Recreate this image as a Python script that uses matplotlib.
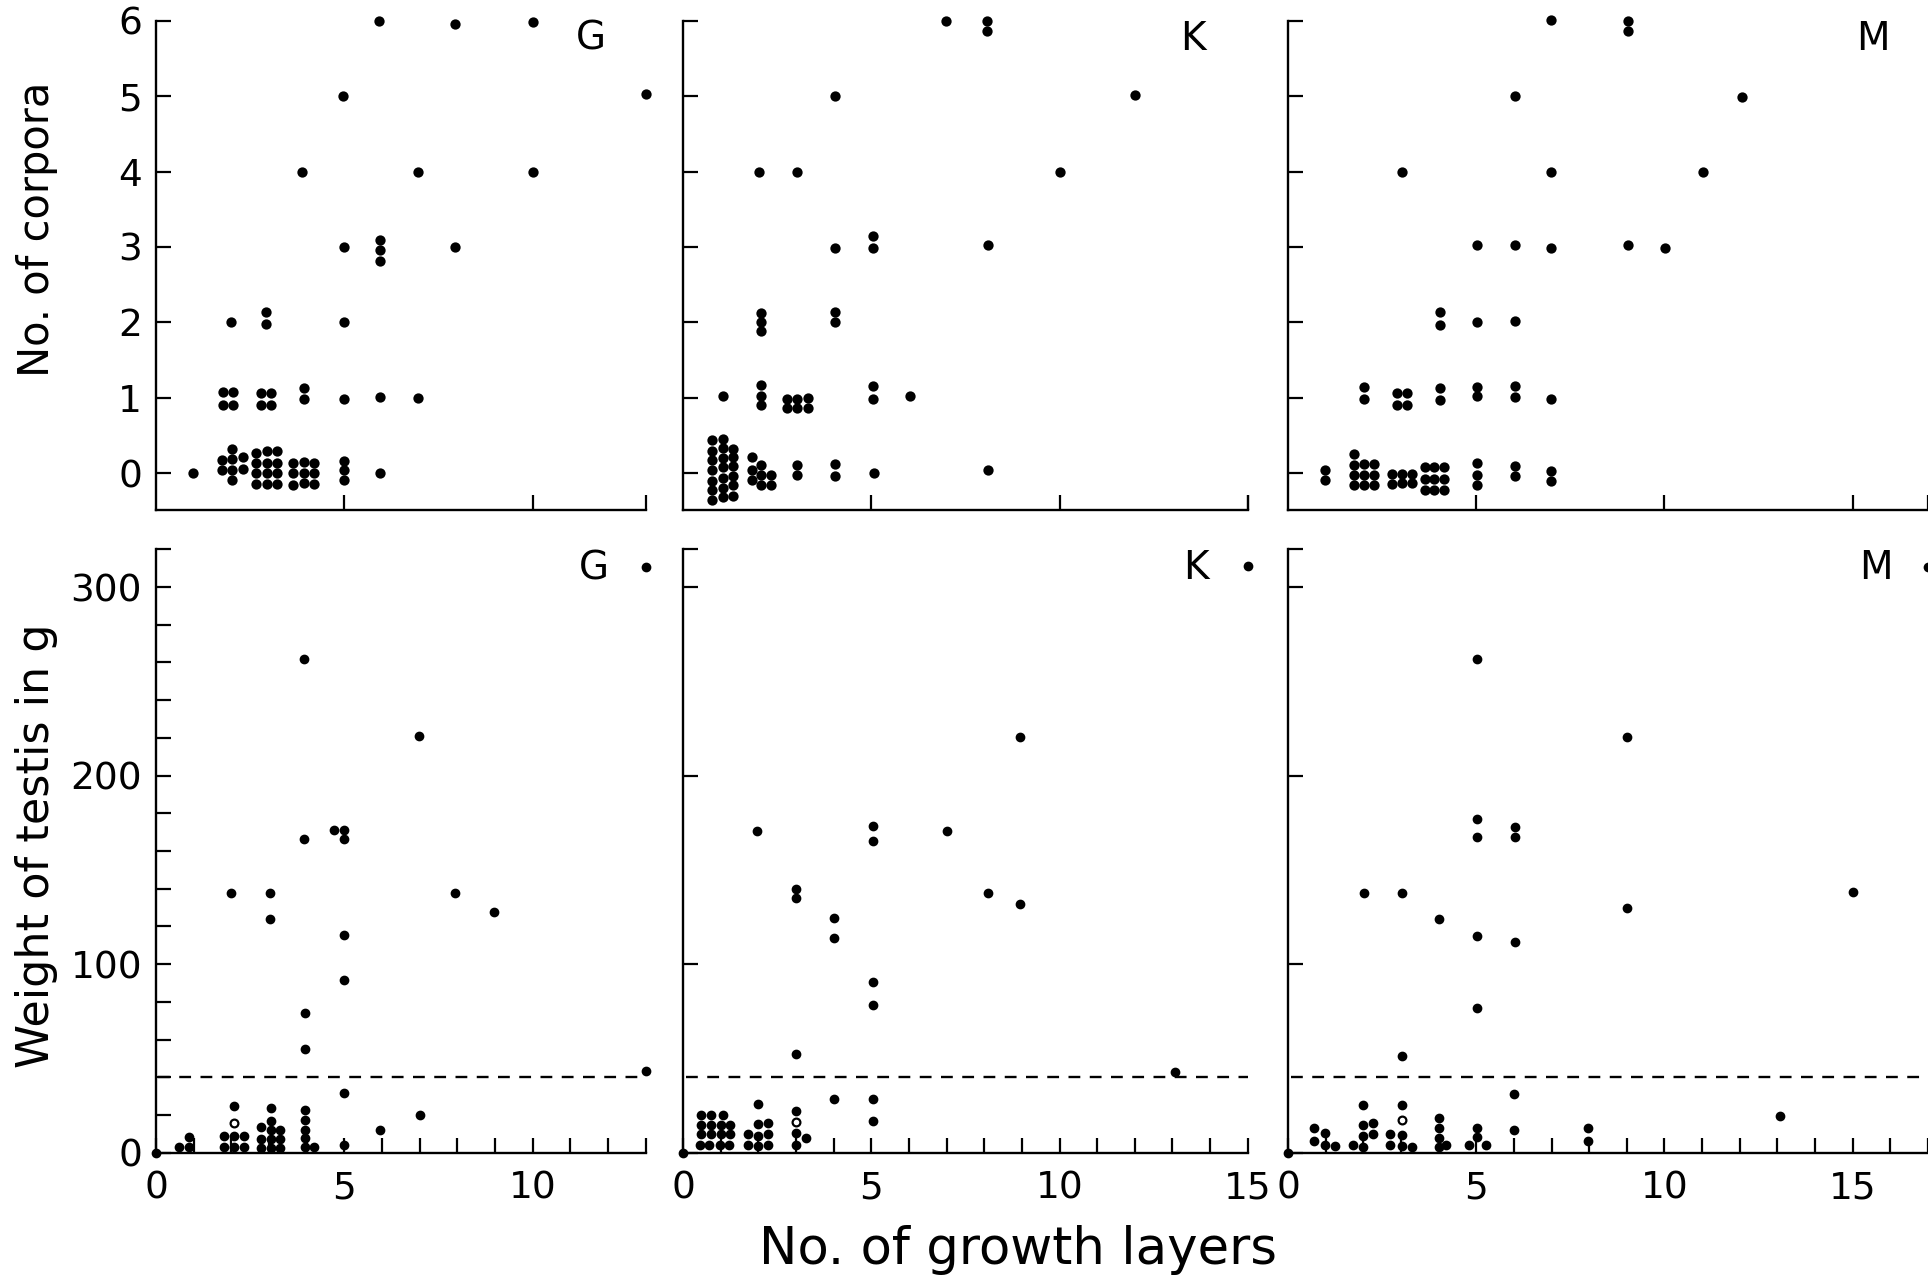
import matplotlib

matplotlib.use("Agg")

import matplotlib.pyplot as plt
from matplotlib.ticker import FixedLocator, NullFormatter

# number of corpora vs growth layers
corpora_g_x = [0.97, 1.76, 1.76, 2.03, 2.03, 2.03, 2.03, 2.30, 2.30, 1.99,
               1.79, 2.05, 1.79, 2.05,
               2.66, 2.66, 2.66, 2.66, 2.94, 2.94, 2.94, 2.94, 3.21, 3.21, 3.21, 3.21,
               2.80, 3.06, 2.80, 3.06, 2.91, 2.91,
               3.63, 3.63, 3.63, 3.92, 3.92, 3.92, 4.20, 4.20, 4.20,
               3.92, 3.92, 3.89,
               4.97, 5.00, 5.00, 5.00, 5.00, 5.00, 5.00,
               5.93, 5.95, 5.95, 5.95, 5.95, 5.95,
               6.95, 6.95, 7.94, 7.94, 10.0, 10.0, 13.0]
corpora_g_y = [0.0, 0.18, 0.04, 0.32, 0.19, 0.04, -0.09, 0.22, 0.05, 2.0,
               1.08, 1.08, 0.90, 0.90,
               0.27, 0.14, 0.0, -0.14, 0.30, 0.14, 0.0, -0.14, 0.29, 0.14, 0.0, -0.14,
               1.06, 1.06, 0.90, 0.90, 2.14, 1.98,
               0.13, 0.0, -0.16, 0.15, 0.0, -0.13, 0.14, 0.0, -0.14,
               1.13, 0.99, 4.0,
               5.0, 3.0, 2.0, 0.98, 0.16, 0.04, -0.09,
               6.0, 3.09, 2.96, 2.82, 1.01, 0.0,
               4.0, 1.0, 5.96, 3.0, 5.98, 4.0, 5.03]

corpora_k_x = [0.76, 0.76, 0.76, 0.76, 0.76, 0.76, 0.76,
               1.05, 1.05, 1.05, 1.05, 1.05, 1.05, 1.05,
               1.33, 1.33, 1.33, 1.33, 1.33, 1.33,
               1.05,
               1.83, 1.83, 1.83, 2.06, 2.06, 2.06, 2.34, 2.34,
               2.06, 2.06, 2.06, 2.06, 2.06, 2.06, 2.03,
               2.77, 3.04, 3.31, 2.77, 3.04, 3.31, 3.04, 3.04, 3.02,
               4.03, 4.03, 4.03, 4.03, 4.05, 4.05,
               5.05, 5.05, 5.05, 5.05, 5.07,
               6.04, 6.99, 8.07, 8.07, 8.09, 8.09, 10.01, 12.0]
corpora_k_y = [0.44, 0.30, 0.18, 0.04, -0.10, -0.22, -0.35,
               0.46, 0.33, 0.20, 0.08, -0.06, -0.19, -0.31,
               0.32, 0.21, 0.10, -0.03, -0.15, -0.30,
               1.02,
               0.22, 0.04, -0.09, 0.11, -0.02, -0.15, -0.02, -0.15,
               1.17, 1.02, 0.91, 2.13, 2.01, 1.88, 4.0,
               0.99, 0.99, 1.0, 0.86, 0.86, 0.87, 0.11, -0.02, 4.0,
               5.0, 2.99, 2.14, 2.0, 0.12, -0.03,
               3.14, 2.98, 1.16, 0.98, 0.0,
               1.02, 6.0, 6.0, 5.86, 3.03, 0.04, 4.0, 5.02]

corpora_m_x = [0.98, 0.98,
               1.74, 1.74, 1.74, 1.74, 2.01, 2.01, 2.01, 2.29, 2.29, 2.29,
               2.01, 2.01,
               2.75, 2.75, 3.03, 3.03, 3.29, 3.29,
               2.89, 3.17, 2.89, 3.17, 3.03,
               3.64, 3.64, 3.64, 3.89, 3.89, 3.89, 4.14, 4.14, 4.14,
               4.03, 4.03, 4.03, 4.03,
               5.02, 5.02, 5.02, 5.02, 5.02, 5.02, 5.02,
               6.04, 6.04, 6.04, 6.04, 6.04, 6.04, 6.04,
               6.99, 6.99, 6.99, 6.99, 6.99, 6.99,
               9.03, 9.03, 9.03, 10.02, 11.03, 12.07]
corpora_m_y = [0.04, -0.09,
               0.26, 0.11, -0.02, -0.15, 0.12, -0.02, -0.15, 0.12, -0.02, -0.15,
               1.14, 0.99,
               -0.01, -0.14, -0.01, -0.13, -0.01, -0.13,
               1.07, 1.07, 0.91, 0.91, 4.0,
               0.08, -0.08, -0.22, 0.08, -0.08, -0.22, 0.08, -0.08, -0.22,
               1.13, 0.97, 2.14, 1.97,
               0.13, -0.02, -0.15, 1.15, 1.02, 2.01, 3.03,
               0.10, -0.03, 1.16, 1.01, 2.02, 3.02, 5.0,
               0.03, -0.10, 0.98, 2.99, 4.0, 6.01,
               6.0, 5.86, 3.02, 2.99, 4.0, 4.99]

# testis weight (g) vs growth layers
testis_g_x = [0.0, 0.60, 0.88, 0.88,
              2.08, 1.81, 1.81, 2.08, 2.08, 2.34, 2.34, 2.0,
              2.79, 2.79, 2.79, 3.05, 3.05, 3.05, 3.05, 3.05, 3.30, 3.30, 3.30,
              3.03, 3.03,
              3.92, 3.92, 3.95, 3.95, 3.95, 3.97, 3.97, 3.97, 3.97, 4.19,
              4.73, 5.0, 5.0, 5.0, 5.0, 5.0, 5.0,
              5.95, 6.98, 7.02, 7.95, 8.98, 13.0, 13.0]
testis_g_y = [0.0, 3.2, 8.5, 3.2,
              24.7, 8.8, 2.9, 8.8, 2.9, 8.8, 2.9, 137.5,
              13.4, 7.2, 2.3, 23.5, 16.8, 12.0, 7.2, 2.3, 12.0, 7.2, 2.3,
              137.5, 124.1,
              262.0, 166.3, 74.1, 55.2, 22.7, 17.3, 12.3, 7.6, 2.8, 2.8,
              171.1, 171.1, 166.1, 115.2, 91.6, 31.4, 4.3,
              11.9, 220.9, 20.1, 137.5, 127.8, 310.8, 43.3]
testis_g_open_x = [2.08]
testis_g_open_y = [15.6]

testis_k_x = [0.0,
              0.47, 0.74, 1.05,
              0.47, 0.74, 1.0, 1.25,
              0.47, 0.74, 1.0, 1.25,
              0.44, 0.69, 0.97, 1.22,
              1.73, 1.73, 2.0, 2.0, 2.0, 2.27, 2.27, 2.27, 1.98, 1.97,
              3.01, 3.01, 3.01, 3.01, 3.01, 3.01, 3.26,
              4.0, 4.0, 4.0,
              5.05, 5.05, 5.05, 5.05, 5.05, 5.05,
              7.0, 8.1, 8.96, 8.96, 13.07, 15.0]
testis_k_y = [0.0,
              19.9, 19.9, 19.9,
              14.5, 14.5, 14.5, 14.5,
              9.7, 9.7, 9.7, 9.7,
              4.3, 4.3, 4.3, 4.3,
              9.7, 4.3, 15.2, 9.1, 3.7, 15.6, 9.7, 3.9, 26.0, 170.5,
              140.1, 134.9, 52.4, 22.1, 10.2, 4.3, 8.0,
              124.5, 114.1, 28.6,
              173.3, 165.3, 90.5, 78.4, 28.6, 16.7,
              170.5, 137.5, 220.3, 131.7, 42.7, 311.2]
testis_k_open_x = [3.01]
testis_k_open_y = [16.2]

testis_m_x = [0.0, 0.70, 0.70, 0.98, 0.98, 1.25,
              1.72, 2.0, 2.0, 2.0, 2.0, 2.25, 2.25, 2.03,
              2.72, 2.72, 3.03, 3.03, 3.03, 3.30, 3.04, 3.03,
              4.0, 4.0, 4.0, 4.0, 4.0, 4.19,
              5.02, 5.02, 5.02, 5.02, 5.02, 5.02, 5.02, 4.80, 5.27,
              6.02, 6.02, 6.02, 6.0, 6.0,
              7.98, 7.98, 9.01, 9.01, 13.08, 15.02, 17.0]
testis_m_y = [0.0, 13.0, 6.0, 10.4, 4.3, 3.5,
              4.3, 25.1, 14.7, 8.9, 2.8, 15.8, 9.7, 137.8,
              9.7, 4.3, 25.5, 9.3, 3.5, 2.8, 137.8, 51.4,
              124.2, 18.6, 13.2, 7.8, 2.8, 3.9,
              261.8, 177.1, 167.4, 115.1, 76.7, 13.0, 8.2, 4.3, 4.3,
              172.8, 167.4, 111.9, 30.9, 11.9,
              13.0, 6.0, 220.3, 129.8, 19.7, 138.2, 310.5]
testis_m_open_x = [3.03]
testis_m_open_y = [17.5]

panel_letters = ["G", "K", "M"]
layer_max = [13, 15, 17]
threshold_weight = 40

W, H = 1928, 1279
fig = plt.figure(figsize=(W / 100, H / 100), dpi=100)
plt.rcParams["font.family"] = ["DejaVu Sans"]

# axes boxes in pixels: (left, right) per column, (top, bottom) per row
col_px = [(156, 645.5), (683, 1247.8), (1288, 1928)]
row_px = [(20.7, 510.0), (549.3, 1152.7)]


def _axes(col, row):
    left, right = col_px[col]
    top, bottom = row_px[row]
    return fig.add_axes([left / W, 1 - bottom / H, (right - left) / W, (bottom - top) / H])


def _style(ax):
    for side in ("top", "right"):
        ax.spines[side].set_visible(False)
    for side in ("left", "bottom"):
        ax.spines[side].set_linewidth(1.7)
    ax.tick_params(which="both", direction="in", length=10.5, width=1.6,
                   labelsize=27, top=False, right=False)
    ax.tick_params(axis="y", pad=10)
    ax.tick_params(axis="x", pad=13)


def _dots(ax, xs, ys, size, fill="black", edge=1.2):
    ax.plot(xs, ys, "o", ms=size, mfc=fill, mec="black", mew=edge,
            linestyle="none", clip_on=False, zorder=3)


corpora = [(corpora_g_x, corpora_g_y), (corpora_k_x, corpora_k_y), (corpora_m_x, corpora_m_y)]
testis = [(testis_g_x, testis_g_y, testis_g_open_x, testis_g_open_y),
          (testis_k_x, testis_k_y, testis_k_open_x, testis_k_open_y),
          (testis_m_x, testis_m_y, testis_m_open_x, testis_m_open_y)]

for i, letter in enumerate(panel_letters):
    xmax = layer_max[i]

    # upper row: corpora counts
    ax = _axes(i, 0)
    _style(ax)
    xs, ys = corpora[i]
    _dots(ax, xs, ys, 6.2)
    ax.set_xlim(0, xmax)
    ax.set_ylim(-0.487, 6)
    ax.set_yticks(range(0, 7))
    ax.set_xticks([t for t in range(5, xmax + 1, 5)] + [xmax])
    ax.tick_params(axis="x", labelbottom=False)
    if i > 0:
        ax.tick_params(axis="y", labelleft=False)
    ax.text((col_px[i][1] - 55) / W, 1 - 39 / H, letter, transform=fig.transFigure,
            ha="center", va="center", fontsize=28)

    # lower row: testis weight
    ax = _axes(i, 1)
    _style(ax)
    xs, ys, oxs, oys = testis[i]
    ax.axhline(threshold_weight, color="black", lw=1.7, linestyle=(0, (5, 4)),
               xmin=0.005, xmax=1.0, zorder=2)
    _dots(ax, xs, ys, 5.8)
    _dots(ax, oxs, oys, 5.6, fill="white", edge=1.6)
    ax.set_xlim(0, xmax)
    ax.set_ylim(0, 320)
    ax.yaxis.set_major_locator(FixedLocator([0, 100, 200, 300]))
    if i == 0:
        ax.yaxis.set_minor_locator(FixedLocator(range(20, 321, 20)))
    else:
        ax.yaxis.set_minor_locator(FixedLocator([320]))
    ax.yaxis.set_minor_formatter(NullFormatter())
    ax.xaxis.set_major_locator(FixedLocator([t for t in range(0, xmax + 1, 5)]))
    ax.xaxis.set_minor_locator(FixedLocator(range(1, xmax + 1)))
    ax.xaxis.set_minor_formatter(NullFormatter())
    if i > 0:
        ax.tick_params(axis="y", labelleft=False)
    ax.text((col_px[i][1] - 52) / W, 1 - 568 / H, letter, transform=fig.transFigure,
            ha="center", va="center", fontsize=28)

fig.text(37 / W, 1 - 229 / H, "No. of corpora", rotation=90,
         ha="center", va="center", fontsize=30)
fig.text(37 / W, 1 - 846 / H, "Weight of testis in g", rotation=90,
         ha="center", va="center", fontsize=32)
fig.text(1018 / W, 1 - 1250 / H, "No. of growth layers",
         ha="center", va="center", fontsize=37)

fig.savefig("out.png", dpi=100, facecolor="white")
